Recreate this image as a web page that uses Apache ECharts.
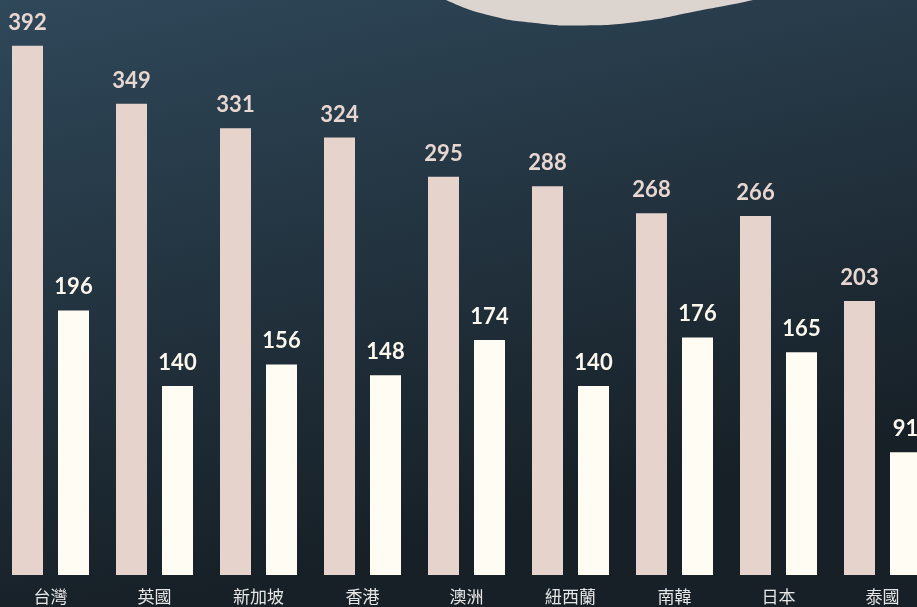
<!DOCTYPE html>
<html><head><meta charset="utf-8">
<script src="https://cdn.jsdelivr.net/npm/echarts@6/dist/echarts.min.js"></script>
<style>html,body{margin:0;padding:0;background:#1f2c36;}#c{width:917px;height:607px;}</style>
</head><body><div id="c"></div>
<script>
const categories = ['台灣','英國','新加坡','香港','澳洲','紐西蘭','南韓','日本','泰國'];
const seriesA = [392,349,331,324,295,288,268,266,203];
const seriesB = [196,140,156,148,174,140,176,165,91];

const chart = echarts.init(document.getElementById('c'));
chart.setOption({
  backgroundColor: {type:'linear', x:0, y:0, x2:0.15, y2:1, colorStops:[{offset:0,color:'#2f485a'},{offset:1,color:'#172027'}]},
  graphic: [{
    type:'polygon', z:-1, silent:true,
    shape:{smooth:0.5, points:[[360,-400],[372,-50],[405,-22],[446,0],[490,15.5],[535,23],[580,25.5],[640,21.5],[700,10.5],[753,0],[810,-14],[880,-40],[910,-400]]},
    style:{fill:'#dcd4ce'}
  }],
  grid:{left:-1.5, top:35, width:936, height:540, outerBoundsMode:'none', containLabel:false},
  xAxis:{type:'category', data:categories, axisLine:{show:false}, axisTick:{show:false},
    axisLabel:{color:'#e6e6e6', fontSize:17, margin:13, fontFamily:'Noto Sans CJK TC'}},
  yAxis:{type:'value', min:0, max:400, show:false, splitLine:{show:false}},
  series:[
    {type:'bar', data:seriesA, barWidth:31, barGap:'48.4%', itemStyle:{color:'#e6d3cc'},
     label:{show:true, position:'top', distance:12, color:'#e8d7d0', fontSize:22, fontWeight:'bold', fontFamily:'Lato'}},
    {type:'bar', data:seriesB, barWidth:31, barGap:'48.4%', itemStyle:{color:'#fffdf3'},
     label:{show:true, position:'top', distance:12, color:'#fbf7ec', fontSize:22, fontWeight:'bold', fontFamily:'Lato'}}
  ]
});
</script></body></html>
